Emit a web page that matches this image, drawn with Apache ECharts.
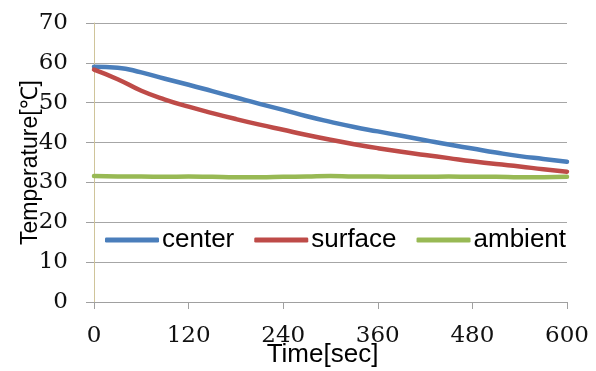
<!DOCTYPE html>
<html>
<head>
<meta charset="utf-8">
<script src="https://cdn.jsdelivr.net/npm/echarts@6/dist/echarts.min.js"></script>
<style>
  html, body { margin: 0; padding: 0; background: #fff; }
  #chart { width: 596px; height: 371px; }
</style>
</head>
<body>
<div id="chart"></div>
<script>
// Sampling times (s)
const times = [0, 30, 60, 90, 120, 150, 180, 210, 240, 270, 300, 330, 360, 390, 420, 450, 480, 510, 540, 570, 600];
// Temperatures (°C)
const center  = [59.0, 58.8, 57.6, 56.0, 54.5, 52.9, 51.3, 49.7, 48.2, 46.6, 45.2, 43.9, 42.8, 41.7, 40.6, 39.5, 38.5, 37.5, 36.6, 35.9, 35.2];
const surface = [58.3, 55.9, 53.0, 50.8, 49.0, 47.4, 45.9, 44.5, 43.2, 41.9, 40.7, 39.6, 38.6, 37.7, 36.9, 36.1, 35.3, 34.6, 34.0, 33.3, 32.7];
const ambient = [31.6, 31.5, 31.5, 31.4, 31.5, 31.4, 31.3, 31.3, 31.4, 31.5, 31.6, 31.5, 31.5, 31.4, 31.4, 31.5, 31.4, 31.4, 31.3, 31.3, 31.4];
const seriesNames = ['center', 'surface', 'ambient'];
const seriesColors = ['#4a7ebb', '#be4b48', '#98b954'];

const pairs = (ys) => times.map((t, i) => [t, ys[i]]);
const chart = echarts.init(document.getElementById('chart'));

const tickFont = { fontFamily: 'DejaVu Serif', fontSize: 23, color: '#111' };

chart.setOption({
  animation: false,
  grid: { left: 94, right: 29, top: 23, bottom: 69, outerBoundsMode: 'none', containLabel: false },
  legend: {
    data: seriesNames,
    left: 100, top: 222,
    icon: 'roundRect',
    itemWidth: 54, itemHeight: 5, itemGap: 20,
    textStyle: { fontFamily: 'Liberation Sans', fontSize: 26, color: '#000', padding: [0, 0, 0, -2] }
  },
  xAxis: {
    type: 'value', min: 0, max: 600, interval: 120,
    name: 'Time[sec]', nameLocation: 'middle', nameGap: 40, nameMoveOverlap: false,
    nameTextStyle: { fontFamily: 'Liberation Sans', fontSize: 26, color: '#000', padding: [0, 16, 0, 0] },
    axisLine: { show: true, lineStyle: { color: '#a0a0a0', width: 1 } },
    axisTick: { show: true, length: 7, lineStyle: { color: '#a0a0a0' } },
    axisLabel: Object.assign({ margin: 23 }, tickFont),
    splitLine: { show: false }
  },
  yAxis: {
    type: 'value', min: 0, max: 70, interval: 10,
    name: 'Temperature[℃]', nameLocation: 'middle', nameGap: 52, nameMoveOverlap: false,
    nameTextStyle: { fontFamily: 'Liberation Sans', fontSize: 23, color: '#000' },
    axisLine: { show: true, lineStyle: { color: '#cfc49a', width: 1 } },
    axisTick: { show: true, length: 8, lineStyle: { color: '#a0a0a0' } },
    axisLabel: Object.assign({ margin: 26 }, tickFont),
    splitLine: { show: true, lineStyle: { color: '#a6a6a6', width: 1 } }
  },
  series: seriesNames.map((name, k) => ({
    name: name,
    type: 'line',
    smooth: true,
    symbol: 'none',
    data: pairs([center, surface, ambient][k]),
    lineStyle: { color: seriesColors[k], width: 4.5, cap: 'round' },
    itemStyle: { color: seriesColors[k] }
  }))
});
</script>
</body>
</html>
